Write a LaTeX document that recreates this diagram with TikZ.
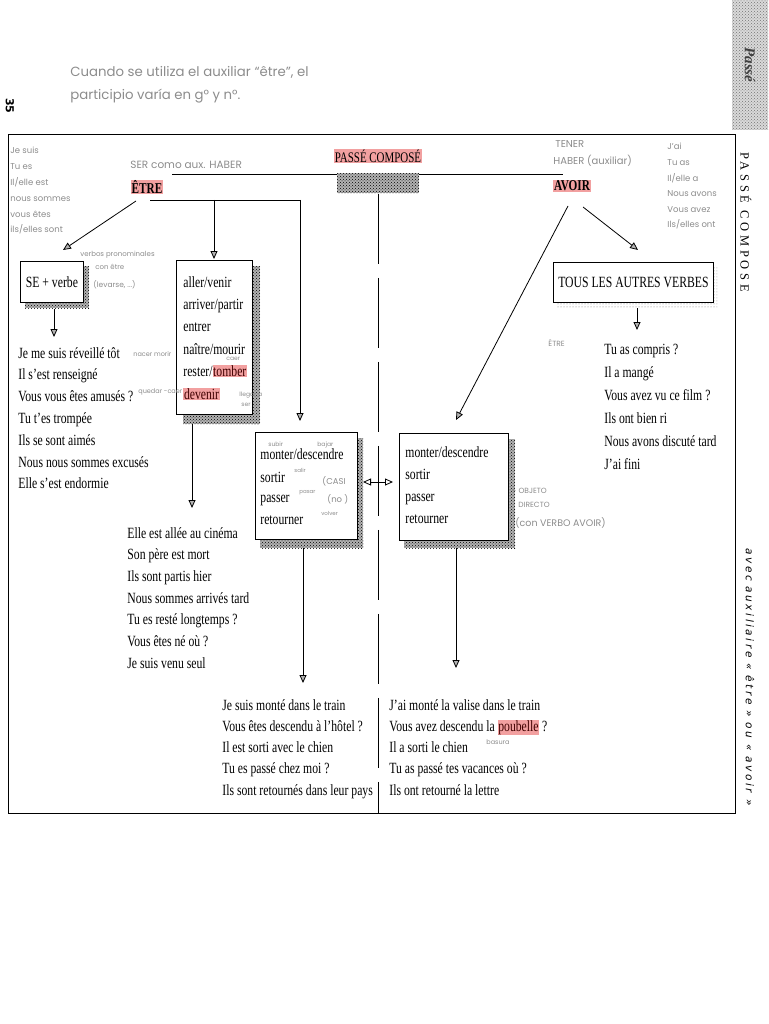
\documentclass[tikz,border=0pt]{standalone}
\usepackage{fontspec}
\setmainfont{Liberation Serif}
\newfontfamily\cond[FakeStretch=0.75]{Liberation Serif}
\newfontfamily\hand{Poppins}
\newfontfamily\sidefont{DejaVu Sans}
\usetikzlibrary{arrows.meta,patterns}
\definecolor{hlc}{RGB}{242,160,160}
\definecolor{pen}{RGB}{140,140,140}
\newcommand{\hlw}[1]{\begingroup\setlength{\fboxsep}{0.6pt}\colorbox{hlc}{\textcolor{black!75!red}{#1}}\endgroup}
\begin{document}
\begin{tikzpicture}[x=1pt,y=-1pt,line width=0.8pt,
  body/.style={font=\cond\fontsize{15.6}{18}\selectfont, inner sep=0pt, anchor=base west},
  big/.style={font=\cond\fontsize{15.6}{18}\selectfont, inner sep=0pt},
  head/.style={font=\cond\bfseries\fontsize{15}{18}\selectfont, inner sep=0.6pt, fill=hlc},
  box/.style={draw, fill=white, inner sep=0pt, anchor=north west},
  shadow/.style={preaction={fill=black!30}, pattern=crosshatch dots, pattern color=black},
  lshadow/.style={pattern=dots, pattern color=black!55},
  arr/.style={-{Triangle[length=8pt,width=7pt,fill=black!30]}},
  darr/.style={{Triangle[length=8pt,width=7pt,fill=white]}-{Triangle[length=8pt,width=7pt,fill=white]}},
  hw/.style={font=\hand\fontsize{#1}{#1}\selectfont, text=pen, inner sep=0pt, anchor=base west},
  hw/.default=8
]
\useasboundingbox (0,0) rectangle (768,1024);

% thumb tab and page number
\fill[preaction={fill=black!15}, pattern=crosshatch dots, pattern color=black!55] (732,0) rectangle (768,130);
\node[rotate=-90, font=\bfseries\itshape\fontsize{15}{15}\selectfont, text=black!75] (tab) at (750,65) {Passé};
\node[rotate=-90, font=\sidefont\bfseries\fontsize{11}{11}\selectfont] (num) at (10,106) {35};

% handwritten heading
\node[hw=13.3] (n1) at (70,77) {Cuando se utiliza el auxiliar “être”, el};
\node[hw=13.3] (n2) at (70,100) {participio varía en g° y n°.};

% frame
\draw (8,134) rectangle (735,813);

% side texts
\node[rotate=-90, font=\fontsize{12.5}{13}\selectfont\addfontfeature{LetterSpace=30}] (side1) at (746,222) {PASSÉ COMPOSE};
\node[rotate=-90, font=\sidefont\itshape\fontsize{10.5}{10}\selectfont\addfontfeature{LetterSpace=24}] (side2) at (750,677) {avec auxiliaire « être » ou « avoir »};

% conjugation notes
\foreach \txt [count=\i from 0] in {Je suis, Tu es, Il/elle est, nous sommes, vous êtes, ils/elles sont}
  \node[hw=8.5] (ce\i) at (10,{154+15.8*\i}) {\txt};
\foreach \txt [count=\i from 0] in {J’ai, Tu as, Il/elle a, Nous avons, Vous avez, Ils/elles ont}
  \node[hw=8.5] (ca\i) at (667,{150+15.6*\i}) {\txt};

% top structure
\draw (172,174) -- (563,174);
\node[shadow, minimum width=82pt, minimum height=20pt, anchor=north, inner sep=0pt] (pcbox) at (378,173) {};
\node[head, font=\cond\fontsize{14.6}{18}\selectfont] (pc) at (378,156) {PASSÉ COMPOSÉ};
\draw[dash pattern=on 70pt off 14pt] (pcbox.south) -- (pcbox.south |- 0,813);

\node[head] (etre) at (147,187) {ÊTRE};
\node[hw=10.5] (serc) at (130,169) {SER como aux. HABER};
\node[head] (avoir) at (572,186) {AVOIR};
\node[hw=10] (tener) at (555,148) {TENER};
\node[hw=10] (haber) at (553,165) {HABER (auxiliar)};

% SE + verbe box
\fill[shadow] (83,266) rectangle (89,308);
\fill[shadow] (25,302) rectangle (89,308);
\node[box, minimum width=63pt, minimum height=41pt] (se) at (20,261) {};
\node[big] (setxt) at (se.center) {SE + verbe};
\node[hw=7] (vp1) at (80,256) {verbos pronominales};
\node[hw=7] (vp2) at (95,269) {con être};
\node[hw=7.5] (vp3) at (93,287) {(levarse, ...)};

% verbs with etre box
\fill[shadow] (252,266) rectangle (260,424);
\fill[shadow] (183,414) rectangle (260,424);
\node[box, minimum width=76pt, minimum height=154pt] (b1) at (176,260) {};
\foreach \txt [count=\i from 0] in {aller/venir, arriver/partir, entrer, naître/mourir, rester/\hlw{tomber}, \hlw{devenir}}
  \node[body] (v\i) at (183,{287+22.4*\i}) {\txt};
\node[hw=6.5] (h1) at (133,356) {nacer morir};
\node[hw=6.5] (h2) at (138,393) {quedar -caer};
\node[hw=6] (h3) at (226,360) {caer};
\node[hw=6] (h4) at (239,396) {llegar a};
\node[hw=6] (h5) at (241,406) {ser};

% left double-use box
\fill[shadow] (357,438) rectangle (363,548);
\fill[shadow] (260,539) rectangle (363,548);
\node[box, minimum width=102pt, minimum height=107pt] (b2) at (255,432) {};
\node[body] (m0) at (260,459) {monter/descendre};
\node[body] (m1) at (260,482) {sortir};
\node[body] (m2) at (260,502) {passer};
\node[body] (m3) at (260,524) {retourner};
\node[hw=6] (s1) at (268,446) {subir};
\node[hw=6] (s2) at (317,446) {bajar};
\node[hw=5.5] (s3) at (294,472) {salir};
\node[hw=5.5] (s4) at (299,493) {pasar};
\node[hw=5.5] (s5) at (321,515) {volver};
\node[hw=8.5] (s6) at (322,484) {(CASI};
\node[hw=8.5] (s7) at (327,502) {(no )};

% right double-use box
\fill[shadow] (508,439) rectangle (515,548);
\fill[shadow] (404,540) rectangle (515,548);
\node[box, minimum width=109pt, minimum height=107pt] (b3) at (399,433) {};
\foreach \txt [count=\i from 0] in {monter/descendre, sortir, passer, retourner}
  \node[body] (r\i) at (405,{457+22.3*\i}) {\txt};
\node[hw=7.5] (o1) at (511,493) {+ OBJETO};
\node[hw=7.5] (o2) at (518,507) {DIRECTO};
\node[hw=9.5] (o3) at (515,526) {(con VERBO AVOIR)};

% tous les autres verbes
\fill[lshadow] (557,302) rectangle (717,308);
\fill[lshadow] (713,266) rectangle (717,302);
\node[box, minimum width=160pt, minimum height=40pt] (b4) at (553,262) {};
\node[big] (tous) at (b4.center) {TOUS LES AUTRES VERBES};
\node[hw=7.5] (et2) at (548,346) {ÊTRE};

% example lists
\foreach \txt [count=\i from 0] in {Je me suis réveillé tôt, Il s’est renseigné, Vous vous êtes amusés ?, Tu t’es trompée, Ils se sont aimés, Nous nous sommes excusés, Elle s’est endormie}
  \node[body] (a\i) at (18,{358+21.8*\i}) {\txt};
\foreach \txt [count=\i from 0] in {Elle est allée au cinéma, Son père est mort, Ils sont partis hier, Nous sommes arrivés tard, Tu es resté longtemps ?, Vous êtes né où ?, Je suis venu seul}
  \node[body] (e\i) at (127,{538+21.7*\i}) {\txt};
\foreach \txt [count=\i from 0] in {Tu as compris ?, Il a mangé, Vous avez vu ce film ?, Ils ont bien ri, Nous avons discuté tard, J’ai fini}
  \node[body] (t\i) at (604,{354+23.0*\i}) {\txt};
\foreach \txt [count=\i from 0] in {Je suis monté dans le train, Vous êtes descendu à l’hôtel ?, Il est sorti avec le chien, Tu es passé chez moi ?, Ils sont retournés dans leur pays}
  \node[body] (x\i) at (222,{710+21.25*\i}) {\txt};
\foreach \txt [count=\i from 0] in {J’ai monté la valise dans le train, Vous avez descendu la \hlw{poubelle} ?, Il a sorti le chien, Tu as passé tes vacances où ?, Ils ont retourné la lettre}
  \node[body] (y\i) at (389,{710+21.25*\i}) {\txt};
\node[hw=6.5] (bas) at (486,744) {basura};

% connectors
\coordinate (ej) at (150,200);
\coordinate (ek) at (300,200);
\draw (ej) -- (ek);
\draw[arr] (214,200) -- (214,259);
\draw[arr] (ek) -- (300,421);
\draw[arr] (136,201) -- (63,250);
\draw[arr] (se.south -| 54,0) ++(0,6) -- (54,337);
\draw[arr] (192,424) -- (192,508);
\draw[arr] (303,548) -- (303,683);
\draw[arr] (456,548) -- (456,668);
\draw[darr] (363,482) -- (393,482);
\draw[arr] (568,206) -- (456,420);
\draw[arr] (583,207) -- (638,250);
\draw[arr] (637,308) -- (637,330);
\end{tikzpicture}
\end{document}
